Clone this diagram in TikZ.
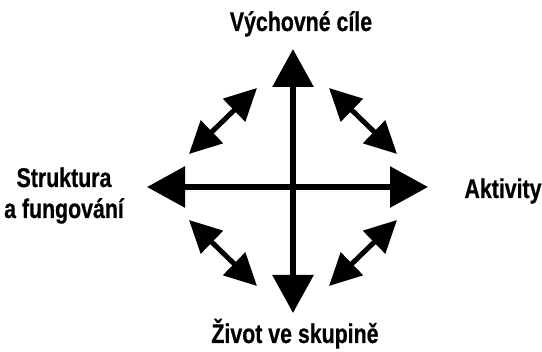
\documentclass[tikz,border=0pt]{standalone}
\usepackage{fontspec}
\newfontfamily\lblfont{Liberation Sans}[FakeStretch=0.79, BoldFeatures={FakeBold=0.6}]
\usetikzlibrary{arrows.meta}
\begin{document}
\begin{tikzpicture}[x=1pt,y=-1pt,
  lbl/.style={font=\lblfont\bfseries\fontsize{27}{31}\selectfont, anchor=base, inner sep=0pt, align=center},
  bigarrow/.style={line width=6pt, {Triangle[length=38pt,width=40pt]}-{Triangle[length=38pt,width=40pt]}},
  smallarrow/.style={line width=5pt, {Triangle[length=32pt,width=31pt]}-{Triangle[length=32pt,width=31pt]}}]
\useasboundingbox (0,0) rectangle (542,352);
% main tips
\coordinate (N) at (293,49);
\coordinate (S) at (293,313);
\coordinate (W) at (147,187);
\coordinate (E) at (428,187);
% diagonal tips
\coordinate (tl1) at (257,88);  \coordinate (tl2) at (189,154);
\coordinate (tr1) at (329,88);  \coordinate (tr2) at (397,154);
\coordinate (bl1) at (189,220); \coordinate (bl2) at (257,286);
\coordinate (br1) at (329,286); \coordinate (br2) at (397,220);
% labels
\node[lbl] (top) at (301,31) {Výchovné cíle};
\node[lbl] (right) at (503,198) {Aktivity};
\node[lbl] (left) at (64,218) {Struktura\\a fungování};
\node[lbl] (bottom) at (295,343) {Život ve skupině};
% arrows
\draw[bigarrow] (N) -- (S);
\draw[bigarrow] (W) -- (E);
\draw[smallarrow] (tl1) -- (tl2);
\draw[smallarrow] (tr1) -- (tr2);
\draw[smallarrow] (bl1) -- (bl2);
\draw[smallarrow] (br1) -- (br2);
\end{tikzpicture}
\end{document}
